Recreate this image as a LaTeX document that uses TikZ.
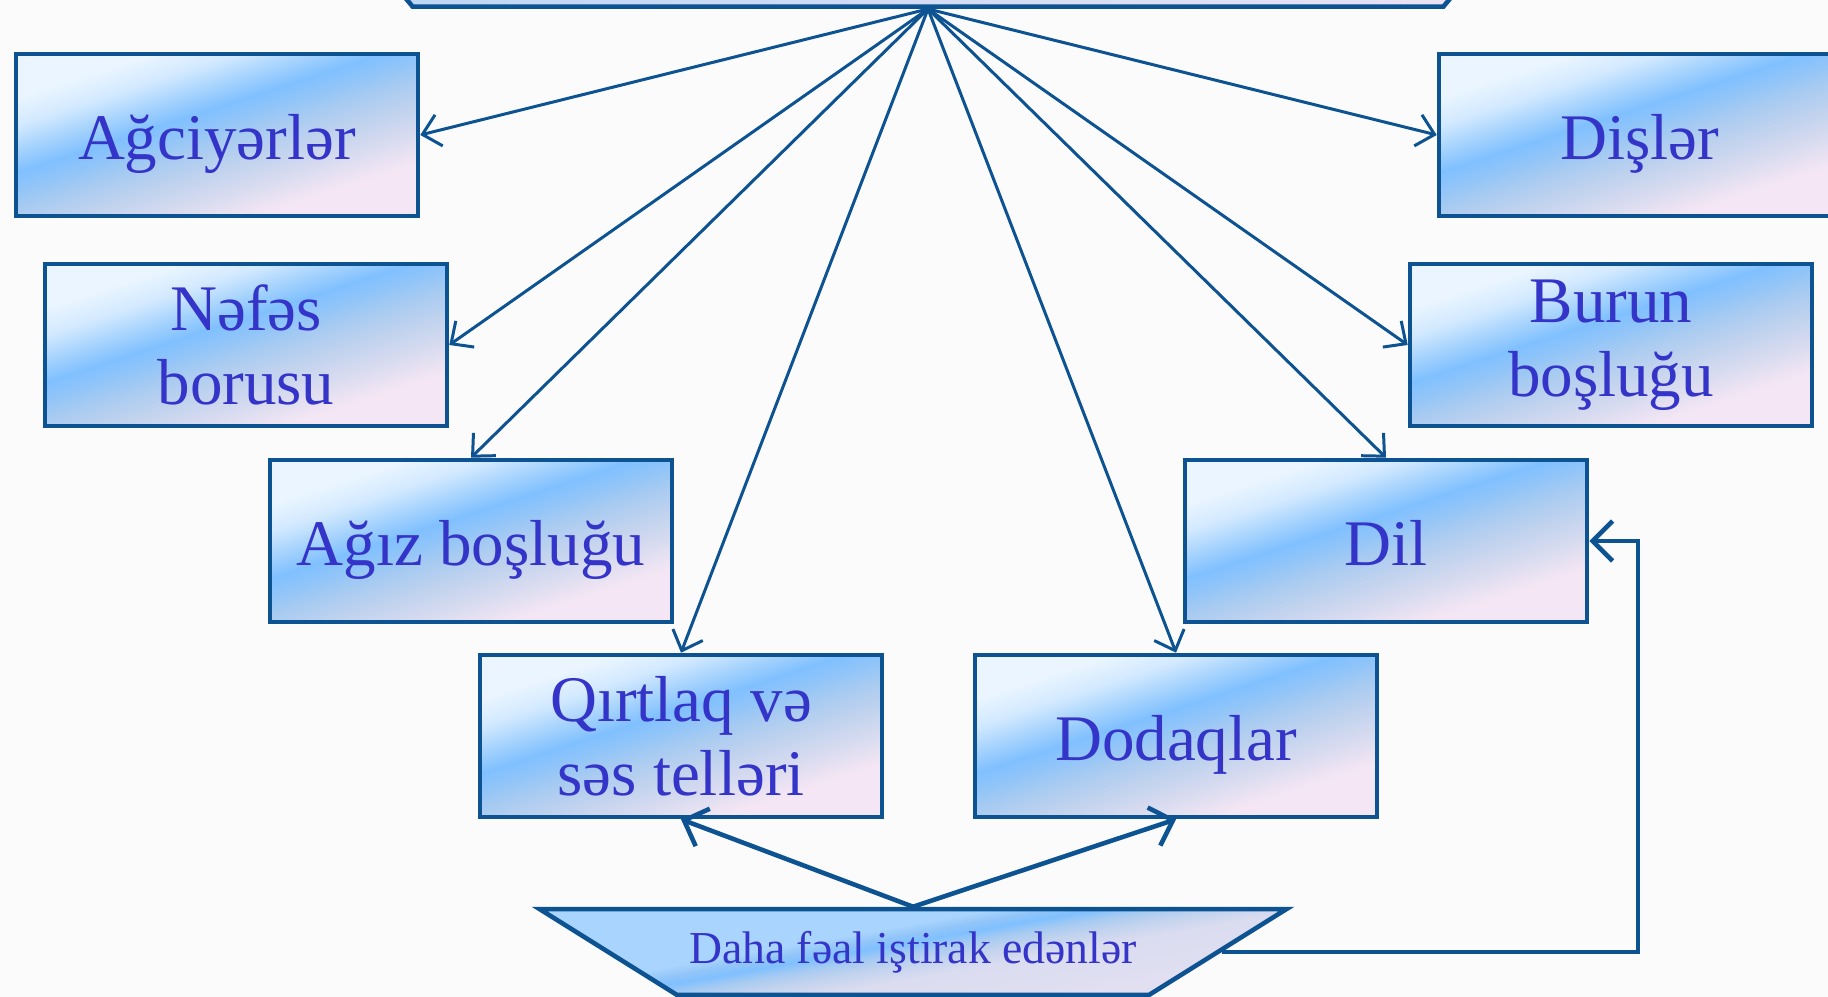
\documentclass[tikz,border=0pt]{standalone}
\usepackage{fontspec}
\setmainfont{Liberation Serif}
\usetikzlibrary{shapes.geometric,arrows.meta}

\definecolor{edgeblue}{HTML}{0D5291}
\definecolor{txtblue}{HTML}{3434C8}
\definecolor{paleblue}{HTML}{EAF5FF}
\definecolor{iceblue}{HTML}{D2E9FF}
\definecolor{skyblue}{HTML}{A8D4FD}
\definecolor{midblue}{HTML}{80C0FF}
\definecolor{brightblue}{HTML}{92C5F8}
\definecolor{steelblue}{HTML}{A8CBF1}
\definecolor{greyblue}{HTML}{C2D3EE}
\definecolor{lilac}{HTML}{DADCF0}
\definecolor{palepink}{HTML}{F4E6F4}
\definecolor{paper}{HTML}{FBFBFB}

\pgfdeclareverticalshading{organ}{100bp}{color(0bp)=(palepink); color(30bp)=(palepink);
  color(36bp)=(lilac); color(42bp)=(greyblue); color(48bp)=(steelblue); color(52bp)=(brightblue);
  color(56bp)=(midblue); color(61bp)=(skyblue); color(66bp)=(iceblue); color(72bp)=(paleblue);
  color(100bp)=(paleblue)}
\pgfdeclareverticalshading{base}{100bp}{color(0bp)=(palepink); color(43bp)=(lilac);
  color(47bp)=(greyblue); color(50bp)=(steelblue); color(52.8bp)=(midblue);
  color(55bp)=(brightblue); color(57.5bp)=(skyblue); color(100bp)=(skyblue)}

\tikzset{
  organ/.style={draw=edgeblue, line width=1.3pt, shade, shading=organ, shading angle=18,
    minimum width=4.02cm, minimum height=1.62cm, inner sep=0pt, align=center,
    text=txtblue, font=\fontsize{18.5}{21}\selectfont},
  oneline/.style={text height=0.6cm, text depth=0.11cm},
  spoke/.style={draw=edgeblue, line width=0.85pt, -{Straight Barb[length=1.7mm,width=3.2mm]}},
  push/.style={draw=edgeblue, line width=1.3pt, -{Straight Barb[length=2mm,width=4mm]}},
}

\begin{document}
\begin{tikzpicture}
  \useasboundingbox (0,0) rectangle (18.28,9.97);
  \fill[paper] (0,0) rectangle (18.28,9.97);
  \clip (0,0) rectangle (18.28,9.97);

  % top and bottom trapezia
  \node[trapezium, shape border rotate=180, trapezium left angle=50, trapezium right angle=50,
    trapezium stretches body, minimum width=12.32cm, inner xsep=0pt, inner ysep=0.6cm,
    draw=edgeblue, line width=1.3pt, left color=steelblue!80, right color=palepink!90!steelblue,
    anchor=south] (top) at (9.28,9.88) {};
  \node[trapezium, shape border rotate=180, trapezium left angle=32, trapezium right angle=32,
    trapezium stretches body, minimum width=7.47cm, inner xsep=0pt, inner ysep=0.22cm,
    draw=edgeblue, line width=1.3pt, shade, shading=base, shading angle=10,
    text=txtblue, font=\fontsize{13}{15}\selectfont] (feal) at (9.13,0.45) {Daha fəal iştirak edənlər};

  % organ boxes
  \node[organ, oneline] (agc) at (2.17,8.62) {Ağciyərlər};
  \node[organ] (nef) at (2.46,6.52) {Nəfəs\\borusu};
  \node[organ, oneline] (agz) at (4.71,4.56) {Ağız boşluğu};
  \node[organ] (qir) at (6.81,2.61) {Qırtlaq və\\səs telləri};
  \node[organ, oneline] (dod) at (11.76,2.61) {Dodaqlar};
  \node[organ, oneline] (dil) at (13.86,4.56) {Dil};
  \node[organ] (bur) at (16.11,6.52) {Burun\\boşluğu};
  \node[organ, oneline] (dis) at (16.40,8.62) {Dişlər};

  \coordinate (turn) at (16.38,4.56);

  % spokes from the top
  \draw[spoke] (top.south) -- (agc.east);
  \draw[spoke] (top.south) -- (dis.west);
  \draw[spoke] (top.south) -- (nef.east);
  \draw[spoke] (top.south) -- (bur.west);
  \draw[spoke] (top.south) -- (agz.north);
  \draw[spoke] (top.south) -- (dil.north);
  \draw[spoke] (top.south) -- (qir.north);
  \draw[spoke] (top.south) -- (dod.north);

  % from the bottom
  \draw[push] (feal.north) -- (qir.south);
  \draw[push] (feal.north) -- (dod.south);
  \draw[push] (feal.east) -| (turn) -- (dil.east);
\end{tikzpicture}
\end{document}
